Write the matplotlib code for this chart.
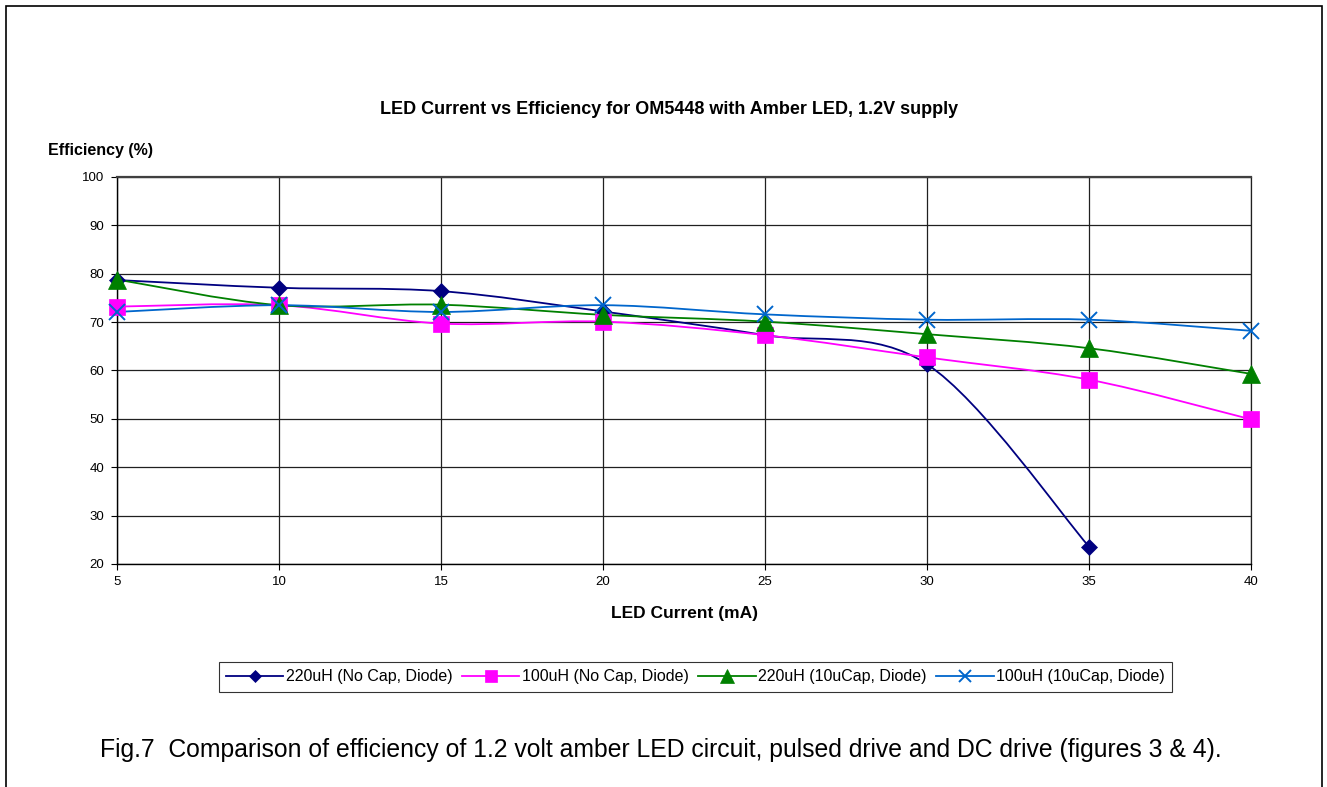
import matplotlib.pyplot as plt
import numpy as np
from matplotlib.path import Path
from matplotlib.patches import PathPatch, Rectangle
from matplotlib.lines import Line2D

plt.rcParams['font.family'] = ['Liberation Sans', 'DejaVu Sans']

current = [5, 10, 15, 20, 25, 30, 35, 40]
labels = ['220uH (No Cap, Diode)', '100uH (No Cap, Diode)',
          '220uH (10uCap, Diode)', '100uH (10uCap, Diode)']
eff_220_nocap = [78.7, 77.1, 76.4, 72.2, 67.3, 61.3, 23.6]
eff_100_nocap = [73.2, 73.5, 69.7, 70.1, 67.3, 62.7, 58.1, 49.9]
eff_220_cap = [78.8, 73.5, 73.6, 71.5, 70.1, 67.5, 64.6, 59.3]
eff_100_cap = [72.1, 73.5, 72.1, 73.5, 71.6, 70.5, 70.5, 68.2]

series = [eff_220_nocap, eff_100_nocap, eff_220_cap, eff_100_cap]
colors = ['#000080', '#FF00FF', '#008000', '#0066CC']
markers = ['D', 's', '^', 'x']
msizes = [8, 11.5, 12.5, 12]


# Excel style smoothed line: cubic bezier through the points
def smooth_path(xs, ys):
    pts = np.column_stack([xs, ys]).astype(float)
    n = len(pts)
    verts = [pts[0]]
    codes = [Path.MOVETO]
    for i in range(n - 1):
        p0 = pts[max(i - 1, 0)]
        p1 = pts[i]
        p2 = pts[i + 1]
        p3 = pts[min(i + 2, n - 1)]
        c1 = p1 + (p2 - p0) / 6.0
        c2 = p2 - (p3 - p1) / 6.0
        verts += [c1, c2, p2]
        codes += [Path.CURVE4] * 3
    return Path(verts, codes)


fig = plt.figure(figsize=(13.27, 7.87), dpi=100)
ax = fig.add_axes([0.0882, 0.2834, 0.8545, 0.4917])

for ys, c, m, ms in zip(series, colors, markers, msizes):
    xs = current[:len(ys)]
    ax.add_patch(PathPatch(smooth_path(xs, ys), fill=False, edgecolor=c, lw=1.3, zorder=3))
    ax.plot(xs, ys, ls='none', marker=m, color=c, markersize=ms,
            markeredgewidth=1.4 if m == 'x' else 0.5, zorder=4, clip_on=False)

ax.set_xlim(5, 40)
ax.set_ylim(20, 100)
ax.set_xticks(current)
ax.set_yticks(range(20, 101, 10))
ax.grid(True, color='#202020', lw=0.9)
ax.tick_params(labelsize=9.5, length=4, width=0.8, color='black', pad=5)
ax.spines['top'].set_color('#404040')
ax.spines['top'].set_linewidth(1.6)
ax.spines['right'].set_color('#202020')
ax.spines['right'].set_linewidth(0.9)
ax.spines['left'].set_linewidth(1)
ax.spines['bottom'].set_linewidth(1)

fig.text(0.504, 0.861, 'LED Current vs Efficiency for OM5448 with Amber LED, 1.2V supply',
         ha='center', va='center', fontsize=13, fontweight='bold')
fig.text(0.036, 0.809, 'Efficiency (%)', ha='left', va='center', fontsize=11.5, fontweight='bold')
fig.text(0.516, 0.221, 'LED Current (mA)', ha='center', va='center', fontsize=12.5, fontweight='bold')

handles = [Line2D([], [], color=c, marker=m, markersize=ms * 0.75, lw=1.3,
                  markeredgewidth=1.4 if m == 'x' else 0.5)
           for c, m, ms in zip(colors, markers, msizes)]
leg = fig.legend(handles, labels, loc='center', bbox_to_anchor=(0.524, 0.14), ncol=4,
                 fontsize=11.5, frameon=True, fancybox=False, edgecolor='black',
                 handlelength=3.6, columnspacing=0.6, handletextpad=0.15,
                 borderpad=0.45)
leg.get_frame().set_linewidth(0.8)

fig.text(0.075, 0.047, 'Fig.7  Comparison of efficiency of 1.2 volt amber LED circuit, pulsed drive and DC drive (figures 3 & 4).',
         ha='left', va='center', fontsize=17.8)

fig.patches.append(Rectangle((0.0045, -0.05), 0.9915, 1.042, transform=fig.transFigure,
                             fill=False, edgecolor='black', lw=1.2))

plt.savefig('out.png', dpi=100)
